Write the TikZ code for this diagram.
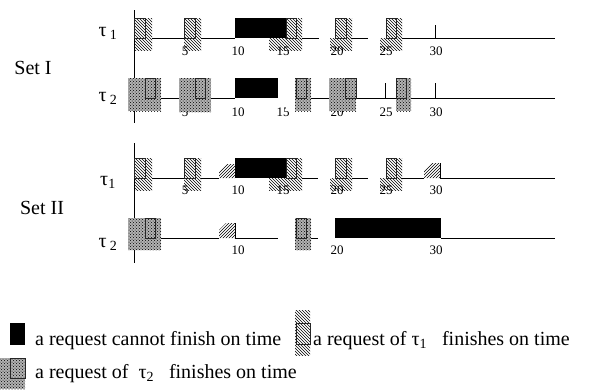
\documentclass[tikz,border=0pt]{standalone}
\usepackage{fontspec}
\setmainfont{Liberation Serif}
\usetikzlibrary{patterns}

\begin{document}
\begin{tikzpicture}[x=1pt,y=-1pt,
  ontime1/.style={pattern=north west lines},
  ontime2/.style={fill=black!30,postaction={pattern=crosshatch dots,pattern color=black}},
  missed/.style={pattern=north east lines},
  late/.style={fill=black},
  req/.style={draw=black!85,line width=0.8pt},
  tl/.style={line width=0.8pt},
  ticklbl/.style={font=\fontsize{13}{13}\selectfont},
  lbl/.style={font=\fontsize{20}{22}\selectfont},
  key/.style={font=\fontsize{20}{22}\selectfont,anchor=base west,inner sep=0pt}]
\useasboundingbox (0,0) rectangle (591,389);

%axes
\draw[tl] (134,10) -- (134,123);
\draw[tl] (134,143) -- (134,263);

%names
\node[lbl] (setone) at (33,68) {Set I};
\node[lbl] (settwo) at (42,208) {Set II};
\node[lbl] (taua) at (108,33) {τ\,\textsubscript{1}};
\node[lbl] (taub) at (108,98) {τ\,\textsubscript{2}};
\node[lbl] (tauc) at (108,182) {τ\textsubscript{1}};
\node[lbl] (taud) at (108,244) {τ\,\textsubscript{2}};

%Set I, tau 1
\draw[tl] (152,38) -- (184,38) (201,38) -- (235,38) (302,38) -- (319,38) (352,38) -- (368,38) (402,38) -- (555,38);
\draw[tl] (435,25) -- (435,38);
\fill[ontime1] (134,18) rectangle (152,50);
\fill[ontime1] (184,18) rectangle (201,50);
\fill[ontime1] (269,38) rectangle (302,50);
\fill[ontime1] (286,18) rectangle (302,38);
\fill[ontime1] (330,38) rectangle (352,50);
\fill[ontime1] (335,18) rectangle (352,38);
\fill[ontime1] (380,38) rectangle (402,50);
\fill[ontime1] (386,18) rectangle (402,38);
\fill[late] (235,18) rectangle (286,38);
\draw[req] (134,18) rectangle (145,38);
\draw[req] (184,18) rectangle (195,38);
\draw[req] (286,18) rectangle (296,38);
\draw[req] (335,18) rectangle (346,38);
\draw[req] (386,18) rectangle (396,38);
\node[ticklbl] (a5) at (185,51) {5};
\node[ticklbl] (a10) at (238,51) {10};
\node[ticklbl] (a15) at (283,51) {15};
\node[ticklbl] (a20) at (337,51) {20};
\node[ticklbl] (a25) at (386,51) {25};
\node[ticklbl] (a30) at (436,51) {30};

%Set I, tau 2
\draw[tl] (161,98) -- (179,98) (211,98) -- (235,98) (311,98) -- (329,98) (356,98) -- (396,98) (411,98) -- (555,98);
\draw[tl] (385,83) -- (385,98);
\draw[tl] (435,83) -- (435,98);
\node[ticklbl] (b5) at (185,112) {5};
\node[ticklbl] (b10) at (238,112) {10};
\node[ticklbl] (b15) at (283,112) {15};
\node[ticklbl] (b20) at (337,112) {20};
\node[ticklbl] (b25) at (386,112) {25};
\node[ticklbl] (b30) at (436,112) {30};
\fill[white] (286,99) rectangle (295,111);
\fill[ontime2] (128,78) rectangle (161,111);
\fill[ontime2] (179,78) rectangle (211,112);
\fill[ontime2] (295,78) rectangle (311,111);
\fill[ontime2] (329,78) rectangle (356,111);
\fill[ontime2] (396,78) rectangle (411,111);
\fill[late] (235,78) rectangle (278,98);
\draw[req] (145,78) rectangle (155,98);
\draw[req] (195,78) rectangle (205,98);
\draw[req] (296,78) rectangle (306,98);
\draw[req] (345,78) rectangle (356,98);
\draw[req] (396,78) rectangle (406,98);

%Set II, tau 1
\draw[tl] (152,178) -- (184,178) (201,178) -- (219,178) (302,178) -- (318,178) (352,178) -- (368,178) (402,178) -- (424,178) (440,178) -- (555,178);
\fill[missed] (219,178) -- (219,171) -- (226,164) -- (235,164) -- (235,178) -- cycle;
\fill[missed] (424,178) -- (424,170) -- (431,163) -- (440,163) -- (440,178) -- cycle;
\draw[tl] (440,163) -- (440,178);
\fill[ontime1] (134,158) rectangle (152,190);
\fill[ontime1] (184,158) rectangle (201,190);
\fill[ontime1] (269,178) rectangle (302,190);
\fill[ontime1] (286,158) rectangle (302,178);
\fill[ontime1] (330,178) rectangle (352,190);
\fill[ontime1] (335,158) rectangle (352,178);
\fill[ontime1] (380,178) rectangle (402,190);
\fill[ontime1] (386,158) rectangle (402,178);
\fill[late] (235,158) rectangle (286,178);
\draw[req] (134,158) rectangle (145,178);
\draw[req] (184,158) rectangle (195,178);
\draw[req] (286,158) rectangle (296,178);
\draw[req] (335,158) rectangle (346,178);
\draw[req] (386,158) rectangle (396,178);
\node[ticklbl] (c5) at (185,190) {5};
\node[ticklbl] (c10) at (238,190) {10};
\node[ticklbl] (c15) at (283,190) {15};
\node[ticklbl] (c20) at (337,190) {20};
\node[ticklbl] (c25) at (386,190) {25};
\node[ticklbl] (c30) at (436,190) {30};

%Set II, tau 2
\draw[tl] (161,238) -- (219,238) (235,238) -- (278,238) (311,238) -- (318,238) (441,238) -- (555,238);
\fill[missed] (219,238) -- (219,230) -- (226,223) -- (235,223) -- (235,238) -- cycle;
\draw[tl] (235,223) -- (235,238);
\fill[ontime2] (128,218) rectangle (161,250);
\fill[ontime2] (295,218) rectangle (311,250);
\fill[late] (335,218) rectangle (441,238);
\draw[req] (145,218) rectangle (155,238);
\draw[req] (296,218) rectangle (306,238);
\node[ticklbl] (d10) at (238,250) {10};
\node[ticklbl] (d20) at (337,250) {20};
\node[ticklbl] (d30) at (436,250) {30};

%legend
\fill[late] (10,323) rectangle (25,345);
\node[key] (keylate) at (35,345) {a request cannot finish on time};
\fill[ontime1] (295,310) rectangle (310,355);
\draw[req] (296,323) rectangle (310,344);
\node[key] (keyone) at (313,345) {a request of τ\textsubscript{1}\ \ \ finishes on time};
\fill[ontime2] (0,358) rectangle (25,389);
\draw[req] (10,358) rectangle (25,378);
\node[key] (keytwo) at (35,378) {a request of \ τ\textsubscript{2}\ \ \ finishes on time};

\end{tikzpicture}
\end{document}
